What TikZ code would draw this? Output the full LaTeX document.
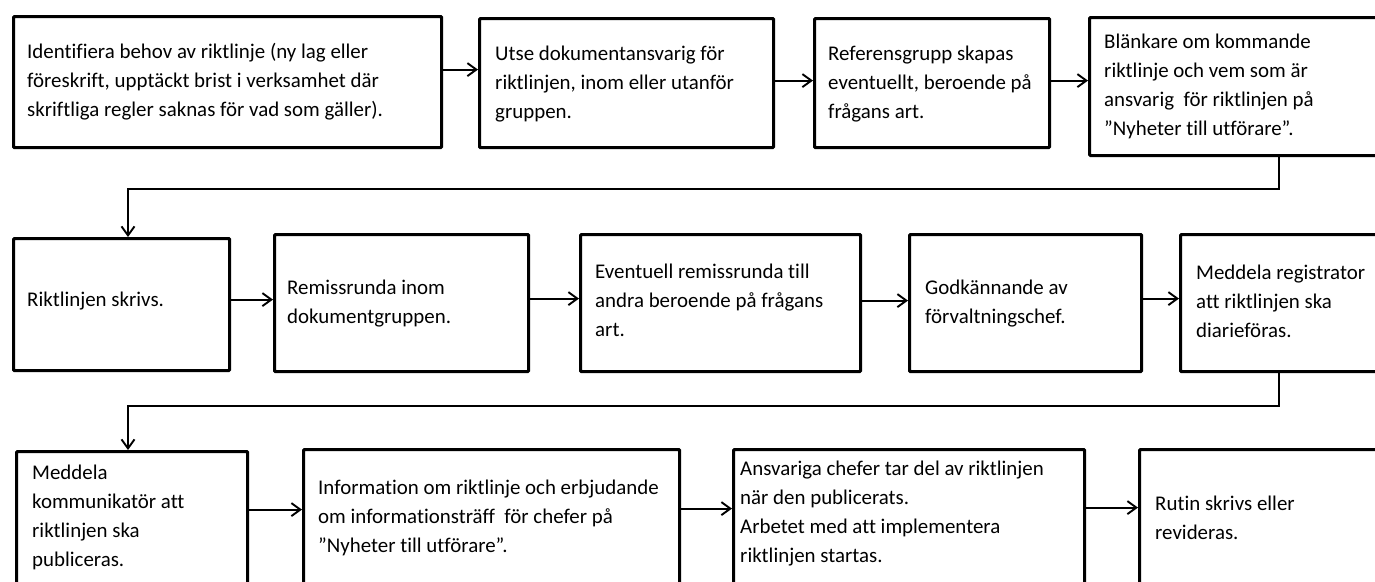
\documentclass[tikz,border=0pt]{standalone}
\usepackage{fontspec}
\setmainfont{Carlito}[Ligatures=NoCommon]
\usetikzlibrary{arrows.meta,calc}
\begin{document}
\begin{tikzpicture}[x=1pt,y=-1pt,
 box/.style={draw=black, line width=3.2pt, fill=white, anchor=north west, inner sep=0pt, rounded corners=1pt},
 txt/.style={font=\fontsize{20.9}{29}\selectfont, align=left, anchor=north west, inner sep=0pt, text=black},
 arr/.style={line width=1.9pt, -{Straight Barb[length=9pt,width=13pt]}},
 conn/.style={line width=1.5pt, -{Straight Barb[length=9pt,width=13pt,line width=1.9pt]}}]
\clip (0,0) rectangle (1375,581);
\fill[white] (0,0) rectangle (1375,581);
% boxes
\node[box, minimum width=428pt, minimum height=131pt] (b1) at (12,15) {};
\node[box, minimum width=294pt, minimum height=129pt] (b2) at (478,17) {};
\node[box, minimum width=235pt, minimum height=129pt] (b3) at (813,17) {};
\node[box, minimum width=312pt, minimum height=138pt] (b4) at (1088,16) {};
\node[box, minimum width=216pt, minimum height=132pt] (b5) at (12,237) {};
\node[box, minimum width=254pt, minimum height=137pt] (b6) at (273,233) {};
\node[box, minimum width=280pt, minimum height=137pt] (b7) at (579,233) {};
\node[box, minimum width=232pt, minimum height=137pt] (b8) at (908,233) {};
\node[box, minimum width=221pt, minimum height=137pt] (b9) at (1179,233) {};
\node[box, minimum width=231pt, minimum height=150pt] (b10) at (15,450) {};
\node[box, minimum width=376pt, minimum height=152pt] (b11) at (302,448) {};
\node[box, minimum width=351pt, minimum height=152pt] (b12) at (732,448) {};
\node[box, minimum width=262pt, minimum height=152pt] (b13) at (1138,448) {};
% texts
\node[txt] (t1) at (27,38) {\strut Identifiera behov av riktlinje (ny lag eller\\\strut föreskrift, upptäckt brist i verksamhet där\\\strut skriftliga regler saknas för vad som gäller).};
\node[txt] (t2) at (495,40) {\strut Utse dokumentansvarig för\\\strut riktlinjen, inom eller utanför\\\strut gruppen.};
\node[txt] (t3) at (828,40) {\strut Referensgrupp skapas\\\strut eventuellt, beroende på\\\strut frågans art.};
\node[txt] (t4) at (1104,28) {\strut Blänkare om kommande\\\strut riktlinje och vem som är\\\strut ansvarig\ \ för riktlinjen på\\\strut ”Nyheter till utförare”.};
\node[txt] (t5) at (27,286) {\strut Riktlinjen skrivs.};
\node[txt] (t6) at (287,274) {\strut Remissrunda inom\\\strut dokumentgruppen.};
\node[txt] (t7) at (595,258) {\strut Eventuell remissrunda till\\\strut andra beroende på frågans\\\strut art.};
\node[txt] (t8) at (925,274) {\strut Godkännande av\\\strut förvaltningschef.};
\node[txt] (t9) at (1196,259) {\strut Meddela registrator\\\strut att riktlinjen ska\\\strut diarieföras.};
\node[txt] (t10) at (32,459) {\strut Meddela\\\strut kommunikatör att\\\strut riktlinjen ska\\\strut publiceras.};
\node[txt] (t11) at (318,474) {\strut Information om riktlinje och erbjudande\\\strut om informationsträff\ \ för chefer på\\\strut ”Nyheter till utförare”.};
\node[txt] (t12) at (740,455) {\strut Ansvariga chefer tar del av riktlinjen\\\strut när den publicerats.\\\strut Arbetet med att implementera\\\strut riktlinjen startas.};
\node[txt] (t13) at (1155,490) {\strut Rutin skrivs eller\\\strut revideras.};
% arrows row 1
\draw[arr] ([yshift=12.5pt]b1.east) -- ([yshift=12.5pt]b1.east -| b2.west);
\draw[arr] ([yshift=2.5pt]b2.east) -- ([yshift=2.5pt]b2.east -| b3.west);
\draw[arr] ([yshift=2.5pt]b3.east) -- ([yshift=2.5pt]b3.east -| b4.west);
% arrows row 2
\draw[arr] ([yshift=5pt]b5.east) -- ([yshift=5pt]b5.east -| b6.west);
\draw[arr] ([yshift=4.5pt]b6.east) -- ([yshift=4.5pt]b6.east -| b7.west);
\draw[arr] ([yshift=2.5pt]b7.east) -- ([yshift=2.5pt]b7.east -| b8.west);
\draw[arr] ([yshift=4.5pt]b8.east) -- ([yshift=4.5pt]b8.east -| b9.west);
% arrows row 3
\draw[arr] ([yshift=17pt]b10.east) -- ([yshift=17pt]b10.east -| b11.west);
\draw[arr] ([yshift=17pt]b11.east) -- ([yshift=17pt]b11.east -| b12.west);
\draw[arr] ([yshift=18pt]b12.east) -- ([yshift=18pt]b12.east -| b13.west);
% elbow connectors
\coordinate (k1) at (1279,189);
\coordinate (k2) at (128,189);
\draw[conn] (k1 |- b4.south) -- (k1) -- (k2) -- (k2 |- b5.north);
\coordinate (k3) at (1279,406);
\coordinate (k4) at (128,406);
\draw[conn] (k3 |- b9.south) -- (k3) -- (k4) -- (k4 |- b10.north);
\end{tikzpicture}
\end{document}
